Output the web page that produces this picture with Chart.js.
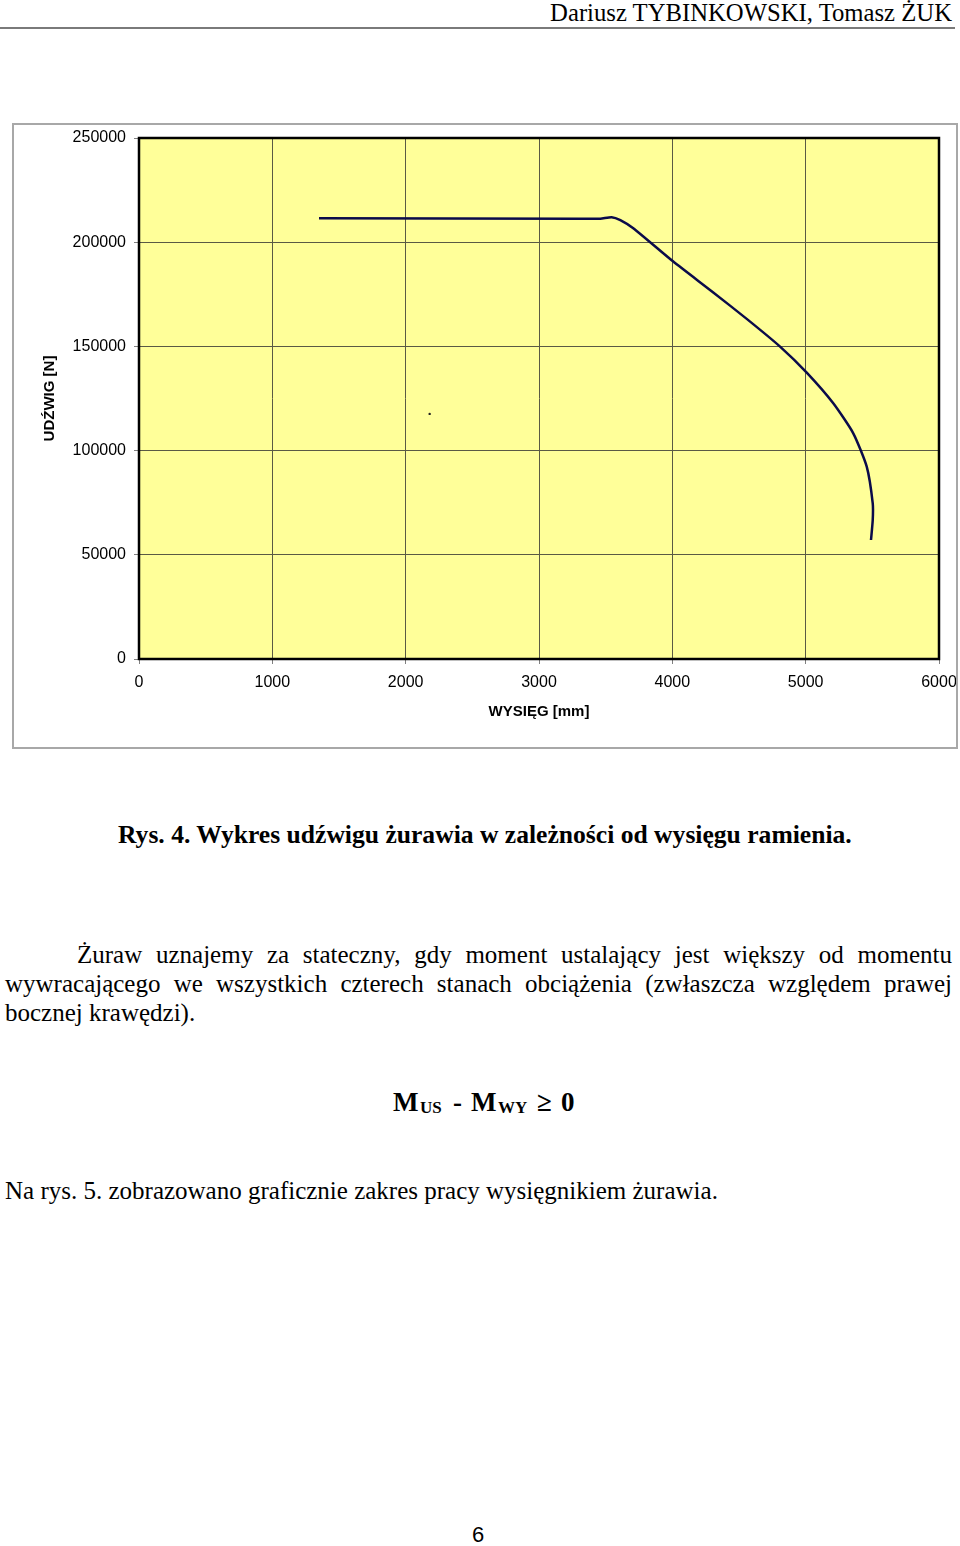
<!DOCTYPE html>
<html lang="pl">
<head>
<meta charset="utf-8">
<title>Rys. 4. Wykres udźwigu żurawia</title>
<script src="https://cdn.jsdelivr.net/npm/chart.js@4.4.1/dist/chart.umd.min.js"></script>
<style>
    body { margin: 0; background: #fff; width: 960px; height: 1546px; position: relative; overflow: hidden; }
    .serif { font-family: "Liberation Serif", "Times New Roman", serif; color: #000; }
    #header { position: absolute; right: 8px; top: 1px; font-size: 24.7px; line-height: 24px; white-space: nowrap; }
    #header-line { position: absolute; left: 0; top: 27px; width: 955px; height: 2px; background: #7a7a7a; }
    #chart-box { position: absolute; left: 12px; top: 123px; width: 946px; height: 626px; box-sizing: border-box; border: 2px solid #a8a8a8; pointer-events: none; }
    #udzwigChart { position: absolute; left: 12px; top: 123px; }
    #caption { position: absolute; left: 118px; top: 821px; font-size: 25.6px; line-height: 28px; font-weight: bold; white-space: nowrap; }
    #para { position: absolute; left: 5px; top: 940px; width: 947px; font-size: 25px; line-height: 29px; }
    #para div { text-align: justify; text-align-last: justify; white-space: nowrap; }
    #para div.last { text-align-last: left; }
    #formula { position: absolute; left: 0; top: 1088px; width: 960px; height: 32px; font-weight: bold; }
    #formula span { position: absolute; bottom: 4px; line-height: 1; }
    #formula .big { font-size: 27px; }
    #formula .sub { font-size: 17px; }
    #lastline { position: absolute; left: 5px; top: 1177px; font-size: 25px; line-height: 28px; white-space: nowrap; }
    #pagenum { position: absolute; left: 472px; top: 1522px; font-family: "Liberation Sans", Arial, sans-serif; font-size: 22px; line-height: 26px; }
</style>
</head>
<body>
<div id="header" class="serif">Dariusz TYBINKOWSKI, Tomasz ŻUK</div>
<div id="header-line"></div>

<canvas id="udzwigChart" width="946" height="626"></canvas>
<div id="chart-box"></div>

<div id="caption" class="serif">Rys. 4. Wykres udźwigu żurawia w zależności od wysięgu ramienia.</div>

<div id="para" class="serif">
    <div style="text-indent: 72px;">Żuraw uznajemy za stateczny, gdy moment ustalający jest większy od momentu</div>
    <div>wywracającego we wszystkich czterech stanach obciążenia (zwłaszcza względem prawej</div>
    <div class="last">bocznej krawędzi).</div>
</div>

<div id="formula" class="serif">
    <span class="big" style="left:393px">M</span><span class="sub" style="left:420px">US</span>
    <span class="big" style="left:453px">-</span>
    <span class="big" style="left:471px">M</span><span class="sub" style="left:498px">WY</span>
    <span class="big" style="left:537px">≥</span>
    <span class="big" style="left:561px">0</span>
</div>

<div id="lastline" class="serif">Na rys. 5. zobrazowano graficznie zakres pracy wysięgnikiem żurawia.</div>

<div id="pagenum">6</div>

<script>
// dane
const wysiegMm = [1350, 3300, 3460, 3545, 3610, 3707, 4007, 4307, 4558, 4808, 5008, 5207, 5357, 5458, 5503, 5503, 5490];
const udzwigN = [211500, 211300, 211300, 212000, 210600, 206700, 190700, 175900, 163200, 149900, 137400, 122700, 108300, 92300, 74700, 66700, 57100];

// mała kropka w środku wykresu
const kropkaX = [2180];
const kropkaY = [117600];

const xTicks = [0, 1000, 2000, 3000, 4000, 5000, 6000];
const yTicks = [0, 50000, 100000, 150000, 200000, 250000];

const plotFrame = {
    id: 'plotFrame',
    beforeDraw(chart) {
        const { ctx, chartArea: a } = chart;
        ctx.save();
        ctx.fillStyle = '#ffff99';
        ctx.fillRect(a.left, a.top, a.right - a.left, a.bottom - a.top);
        ctx.restore();
    },
    afterDraw(chart) {
        const { ctx, chartArea: a } = chart;
        ctx.save();
        ctx.strokeStyle = '#000';
        ctx.lineWidth = 2.5;
        ctx.strokeRect(a.left, a.top, a.right - a.left, a.bottom - a.top);
        ctx.restore();
    }
};

// bez dodatkowego marginesu na etykiety, layout.padding ustawia obszar wykresu
function noLabelPadding(scale) {
    scale.paddingLeft = 0;
    scale.paddingRight = 0;
    scale.paddingTop = 0;
    scale.paddingBottom = 0;
}

document.addEventListener('DOMContentLoaded', () => {
    const ctx = document.getElementById('udzwigChart').getContext('2d');
    const points = wysiegMm.map((x, i) => ({ x: x, y: udzwigN[i] }));
    const dot = kropkaX.map((x, i) => ({ x: x, y: kropkaY[i] }));

    const tickFont = { family: '"Liberation Sans", Arial, sans-serif', size: 16 };
    const titleFont = { family: '"Liberation Sans", Arial, sans-serif', size: 15, weight: 'bold' };

    new Chart(ctx, {
        type: 'scatter',
        data: {
            datasets: [{
                data: points,
                showLine: true,
                borderColor: '#0b0b4a',
                borderWidth: 2.5,
                pointRadius: 0,
                tension: 0.2,
                fill: false
            },
            {
                data: dot,
                pointRadius: 1.2,
                pointBackgroundColor: '#222',
                pointBorderWidth: 0
            }]
        },
        options: {
            responsive: false,
            animation: false,
            layout: { padding: { left: 0, right: 19, top: 15, bottom: 0 } },
            plugins: {
                legend: { display: false },
                tooltip: { enabled: false }
            },
            scales: {
                x: {
                    type: 'linear',
                    min: xTicks[0],
                    max: xTicks[xTicks.length - 1],
                    afterBuildTicks: (scale) => { scale.ticks = xTicks.map(v => ({ value: v })); },
                    afterFit: (scale) => { scale.height = 90; noLabelPadding(scale); },
                    border: { display: false },
                    grid: { color: '#5a5a44', lineWidth: 1, tickColor: '#808080', tickLength: 5 },
                    ticks: { color: '#000', font: tickFont, padding: 9, maxRotation: 0, callback: v => String(v) },
                    title: { display: true, text: 'WYSIĘG [mm]', color: '#000', font: titleFont, padding: { top: 0, bottom: 28 } }
                },
                y: {
                    type: 'linear',
                    min: yTicks[0],
                    max: yTicks[yTicks.length - 1],
                    afterBuildTicks: (scale) => { scale.ticks = yTicks.map(v => ({ value: v })); },
                    afterFit: (scale) => { scale.width = 127; noLabelPadding(scale); },
                    border: { display: false },
                    grid: { color: '#5a5a44', lineWidth: 1, tickColor: '#808080', tickLength: 5 },
                    ticks: { color: '#000', font: tickFont, padding: 8, callback: v => String(v) },
                    title: { display: true, text: 'UDŹWIG [N]', color: '#000', font: titleFont, padding: { top: 29, bottom: 0 } }
                }
            }
        },
        plugins: [plotFrame]
    });
});
</script>
</body>
</html>
